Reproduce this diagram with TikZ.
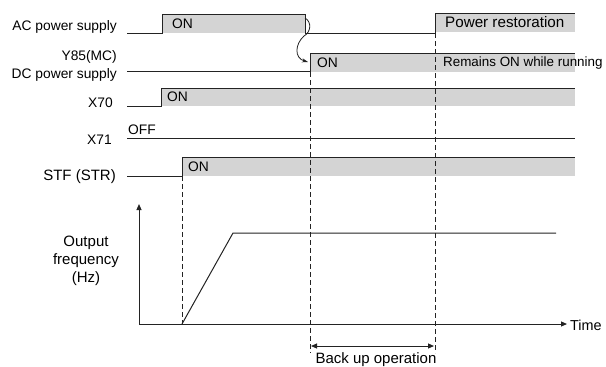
\documentclass[tikz,border=0pt]{standalone}
\usepackage{fontspec}
\setmainfont{Liberation Sans}
\usetikzlibrary{arrows.meta}
\definecolor{barGray}{RGB}{212,212,212}
\definecolor{lineCol}{RGB}{35,35,35}
\newcommand{\fs}[1]{\fontsize{#1}{#1}\selectfont}
\begin{document}
\begin{tikzpicture}[x=1pt,y=-1pt,
  sig/.style={draw=lineCol,line width=1pt},
  guide/.style={draw=lineCol,line width=0.8pt,dash pattern=on 5pt off 3pt},
  lbl/.style={font=\fs{13.8},inner sep=0pt,anchor=east,align=right},
  txt/.style={font=\fs{13.8},inner sep=0pt,anchor=west},
  ax/.style={draw=lineCol,line width=1pt,-{Triangle[length=6pt,width=5pt]}}
]
\useasboundingbox (0,0) rectangle (606,367);
% gray bars
\fill[barGray] (162,14) rectangle (305,33);
\fill[barGray] (435,13) rectangle (575,32);
\fill[barGray] (310,53) rectangle (575,72);
\fill[barGray] (161,88) rectangle (575,106);
\fill[barGray] (182,157) rectangle (575,176);
% dashed guides
\coordinate (d1t) at (182,176); \coordinate (d1b) at (182,324);
\coordinate (d2t) at (310,72); \coordinate (d2b) at (310,353);
\coordinate (d3t) at (435,33); \coordinate (d3b) at (435,353);
\draw[guide] (d1t) -- (d1b);
\draw[guide] (d2t) -- (d2b);
\draw[guide] (d3t) -- (d3b);
% waveforms
\draw[sig] (127,33) -- (162,33) -- (162,14) -- (305,14) -- (305,33) -- (435,33) -- (435,13) -- (575,13);
\draw[sig] (127,71.5) -- (310,71.5) -- (310,53) -- (575,53);
\draw[sig] (127,106) -- (161,106) -- (161,88) -- (575,88);
\draw[sig] (127,138) -- (575,138);
\draw[sig] (127,176) -- (182,176) -- (182,157) -- (575,157);
% curved arrow
\draw[draw=lineCol,line width=0.8pt,-{Stealth[length=6pt,width=4pt]}] (305,18) .. controls (312,22) and (311,32) .. (304,36) .. controls (295,44) and (294,58) .. (308,62);
% labels
\node[lbl] (lac) at (117,27) {AC power supply};
\node[lbl] (ly85) at (117,57) {Y85(MC)};
\node[lbl] (ldc) at (117,75) {DC power supply};
\node[lbl] (lx70) at (113,103) {X70};
\node[lbl] (lx71) at (112,140) {X71};
\node[lbl,font=\fs{15}] (lstf) at (116,177) {STF (STR)};
\node[txt] (on1) at (172,24) {ON};
\node[txt,font=\fs{15.2}] (pr) at (445,22.5) {Power restoration};
\node[txt] (on2) at (317,63) {ON};
\node[txt,font=\fs{13.4}] (rem) at (443,63) {Remains ON while running};
\node[txt] (on3) at (167,97) {ON};
\node[txt] (off) at (128,130) {OFF};
\node[txt] (on4) at (188,167) {ON};
% output frequency graph
\coordinate (o) at (139,324);
\coordinate (ytop) at (139,204);
\coordinate (xend) at (567,324);
\draw[ax] (o) -- (ytop);
\draw[ax] (o) -- (xend);
\node[txt,font=\fs{14.4}] (time) at (570,325) {Time};
\node[font=\fontsize{15}{18}\selectfont,inner sep=0pt,align=center] (of) at (86,261) {Output\\frequency\\(Hz)};
\coordinate (f0) at (182,324); \coordinate (f1) at (233,233); \coordinate (f2) at (556,233);
\draw[sig] (f0) -- (f1) -- (f2);
% back up operation
\coordinate (b1) at (311,346); \coordinate (b2) at (434,346);
\draw[draw=lineCol,line width=1pt,{Triangle[length=6pt,width=5pt]}-{Triangle[length=6pt,width=5pt]}] (b1) -- (b2);
\node[font=\fs{15},inner sep=0pt,anchor=base] (bu) at (376,363) {Back up operation};
\end{tikzpicture}
\end{document}
